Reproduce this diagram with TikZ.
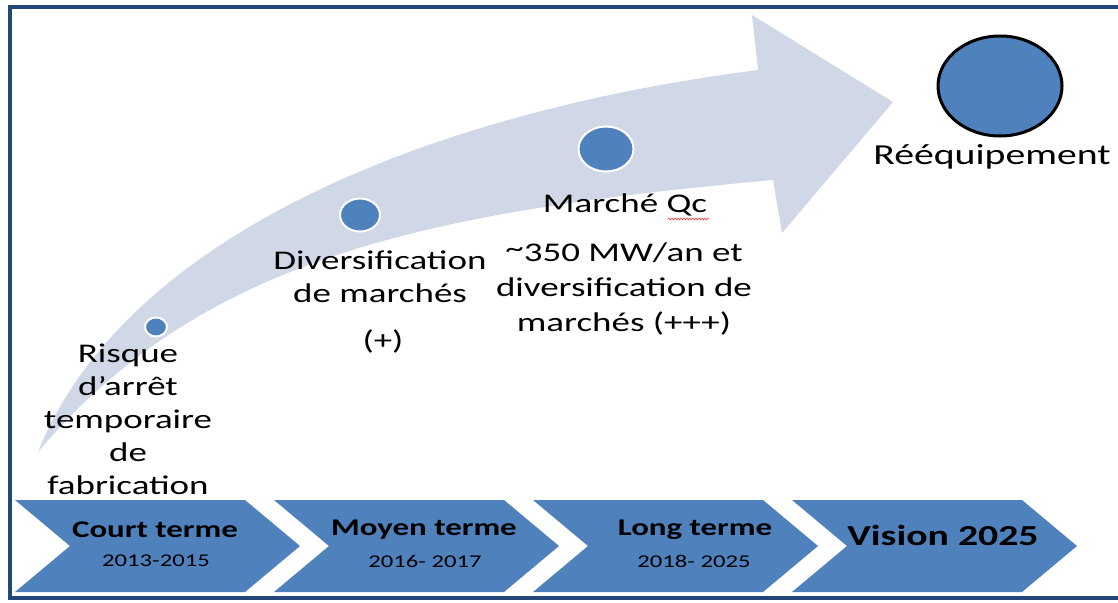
\documentclass[tikz,border=0pt]{standalone}
\usepackage{fontspec}
\setmainfont{Carlito}[FakeStretch=1.37]
\usepackage{tikz}
\usetikzlibrary{shapes.geometric,decorations.pathmorphing}
\definecolor{frameblue}{HTML}{24477A}
\definecolor{stepblue}{HTML}{4F81BD}
\definecolor{arrowgrey}{HTML}{D0D8E8}
\tikzset{
  phase/.style={fill=stepblue},
  phasetitle/.style={font=\fontsize{24}{28}\selectfont\bfseries},
  phasedate/.style={font=\fontsize{18}{22}\selectfont},
  milestone/.style={ellipse, fill=stepblue, draw=white, line width=2pt, inner sep=0pt},
  caption/.style={align=center, inner sep=0pt, font=\fontsize{27}{33}\selectfont},
}
\begin{document}
\begin{tikzpicture}[x=1pt,y=-1pt]
\useasboundingbox (0,0) rectangle (1118,602);
\fill[white] (0,0) rectangle (1118,602);
\draw[frameblue, line width=3.5pt] (10,7) rectangle (1140,598);
% big curved arrow
\fill[arrowgrey] (38,452) coordinate(T) .. controls (125,235) and (430,112) .. (758,70) coordinate(S1) -- (752,15) -- (893,102) coordinate(P) -- (782,233) -- (773,180) coordinate(S2) .. controls (420,212) and (200,260) .. (T) -- cycle;
% milestones
\node[milestone, minimum width=22pt, minimum height=19pt] (d1) at (156,327) {};
\node[milestone, minimum width=40pt, minimum height=33pt] (d2) at (360,215) {};
\node[milestone, minimum width=55pt, minimum height=45pt] (d3) at (606,149) {};
\node[ellipse, fill=stepblue, draw=black, line width=3pt, minimum width=124pt, minimum height=100pt] (goal) at (1000,86) {};
\node[caption] (risk) at (128,419) {Risque\\d’arrêt\\temporaire\\de\\fabrication};
\node[caption] (divers) at (380,277) {Diversification\\de marchés};
\node[caption] (plus) at (383,341) {(+)};
\node[caption] (qc) at (625,205) {Marché Qc};
\draw[red, decorate, decoration={snake, amplitude=1pt, segment length=3pt}] (668,219) -- (710,219);
\node[caption, font=\fontsize{27}{35}\selectfont] (mw) at (624,289) {\raisebox{4pt}{\textasciitilde}350 MW/an et\\diversification de\\marchés (+++)};
\node[caption, font=\fontsize{29}{35}\selectfont] (refit) at (992,157) {Rééquipement};
% time line
\foreach \i in {0,...,3}
  \fill[phase] (15+259*\i,500) -- ++(230,0) -- ++(55,46) -- ++(-55,46) -- ++(-230,0) -- ++(55,-46) -- cycle;
\node[phasetitle] (court) at (155,530) {Court terme};
\node[phasedate] (courtd) at (156,561) {2013-2015};
\node[phasetitle] (moyen) at (424,530) {Moyen terme};
\node[phasedate] (moyend) at (425,561) {2016- 2017};
\node[phasetitle] (long) at (695,530) {Long terme};
\node[phasedate] (longd) at (694,561) {2018- 2025};
\node[font=\fontsize{29}{35}\selectfont\bfseries] (vision) at (943,535) {Vision 2025};
\end{tikzpicture}
\end{document}
